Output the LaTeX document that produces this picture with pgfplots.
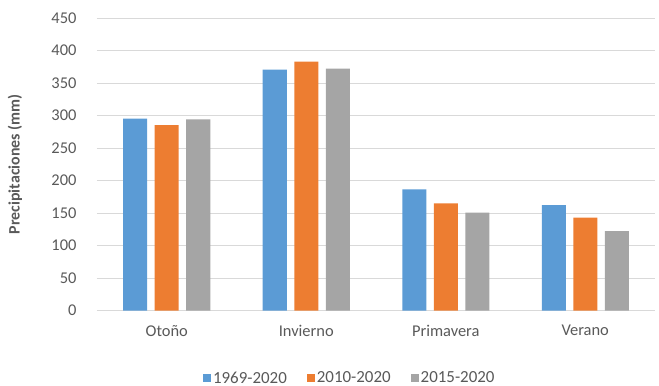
\documentclass[border=0pt]{standalone}
\usepackage{pgfplots}
\pgfplotsset{compat=1.18}
\usepackage{fontspec}
\setmainfont{Carlito}
\usetikzlibrary{calc}
\definecolor{cblue}{HTML}{5B9BD5}
\definecolor{corange}{HTML}{ED7D31}
\definecolor{cgray}{HTML}{A5A5A5}
\definecolor{cgrid}{HTML}{D9D9D9}
\definecolor{ctext}{HTML}{595959}
\begin{document}
\begin{tikzpicture}
\begin{axis}[
  name=main,
  scale only axis,
  width=558bp, height=292.5bp,
  ymin=0, ymax=450, ytick={0,50,...,450},
  xmin=-0.5, xmax=3.5,
  xtick={0,1,2,3},
  xticklabels={Otoño,Invierno,Primavera,Verano},
  ybar=7.5bp, bar width=24bp,
  axis line style={draw=none},
  major tick length=0pt,
  ymajorgrids, grid style={cgrid, line width=0.8pt},
  tick label style={font=\fontsize{16.5}{19}\selectfont, text=ctext},
  /pgf/number format/assume math mode=true,
  yticklabel style={anchor=east, xshift=-17bp},
  xticklabel style={anchor=north, yshift=-11bp},
  ylabel={\bfseries Precipitaciones (mm)},
  ylabel style={font=\fontsize{16}{19}\selectfont, text=ctext,
    at={(rel axis cs:0,0.5)}, anchor=center, yshift=82bp},
  legend style={draw=none, at={(0.453,-0.231)}, anchor=center,
    font=\fontsize{17}{20}\selectfont, text=ctext,
    /tikz/every even column/.append style={column sep=18bp}},
  legend columns=3,
  legend image code/.code={\fill[#1] (-3bp,-4bp) rectangle (5bp,4bp);},
  clip=false,
]
\addplot[fill=cblue, draw=none] coordinates {(0,295) (1,370.5) (2,186.5) (3,162)};
\addplot[fill=corange, draw=none] coordinates {(0,285) (1,383) (2,165) (3,143)};
\addplot[fill=cgray, draw=none] coordinates {(0,294) (1,372) (2,150.5) (3,122)};
\legend{1969-2020, 2010-2020, 2015-2020}
\end{axis}
\pgfresetboundingbox
\path[use as bounding box] ($(main.south west)+(-97bp,-75.5bp)$) rectangle ($(main.north east)+(4bp,18bp)$);
\end{tikzpicture}
\end{document}
